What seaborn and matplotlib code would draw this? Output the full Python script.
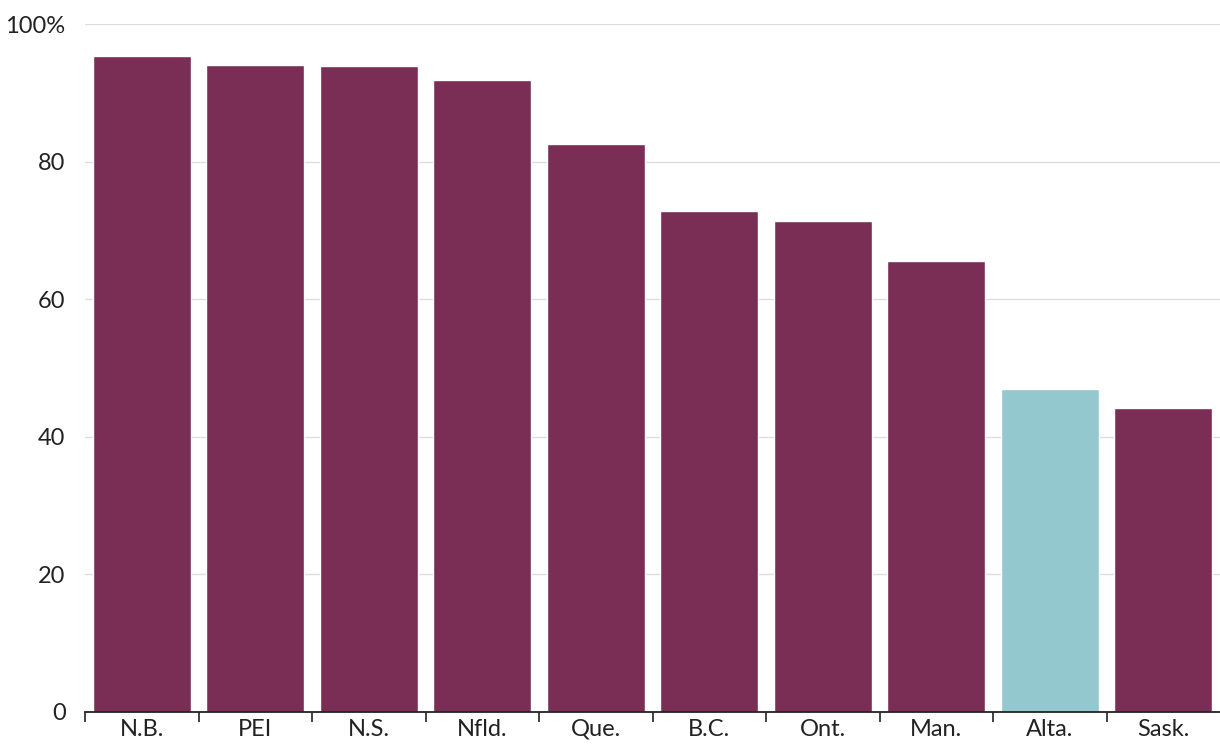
import numpy as np
import pandas as pd
import matplotlib
matplotlib.use("Agg")
import matplotlib.pyplot as plt
import seaborn as sns

provinces = ["N.B.", "PEI", "N.S.", "Nfld.", "Que.", "B.C.", "Ont.", "Man.", "Alta.", "Sask."]
shares = [95.3, 94.0, 93.9, 91.9, 82.6, 72.8, 71.4, 65.6, 46.9, 44.2]
y_ticks = [0, 20, 40, 60, 80, 100]
y_tick_labels = ["0", "20", "40", "60", "80", "100%"]

maroon = "#7b2e55"
teal = "#94c8cf"
palette = {p: (teal if p == "Alta." else maroon) for p in provinces}

df = pd.DataFrame({"province": provinces, "share": shares})

sns.set_style("white")
plt.rcParams["font.family"] = ["Lato", "DejaVu Sans"]

fig = plt.figure(figsize=(12.2, 7.46), dpi=100)
ax = fig.add_axes([0.0697, 0.0456, 0.9303, 0.9222])

sns.barplot(data=df, x="province", y="share", hue="province", palette=palette,
            order=provinces, width=0.86, saturation=1, legend=False, ax=ax, zorder=3)

ax.set_ylim(0, 100)
ax.set_xlim(-0.5, len(provinces) - 0.5)
ax.set_yticks(y_ticks)
ax.set_yticklabels(y_tick_labels)
for y in y_ticks[1:]:
    ax.axhline(y, color="#dddddd", linewidth=1, zorder=1)

ax.tick_params(axis="y", length=0, pad=14, labelsize=17, labelcolor="#222222")
ax.tick_params(axis="x", which="major", length=0, pad=5, labelsize=17, labelcolor="#222222")
# short ticks between the categories
ax.set_xticks(np.arange(-0.5, len(provinces) - 1, 1), minor=True)
ax.tick_params(axis="x", which="minor", bottom=True, length=7, width=1.2,
               direction="out", color="#222222")

for s in ["top", "right", "left"]:
    ax.spines[s].set_visible(False)
ax.spines["bottom"].set_color("#222222")
ax.spines["bottom"].set_linewidth(1.3)
ax.spines["bottom"].set_zorder(5)
ax.set_xlabel("")
ax.set_ylabel("")

fig.savefig("out.png", dpi=100)
